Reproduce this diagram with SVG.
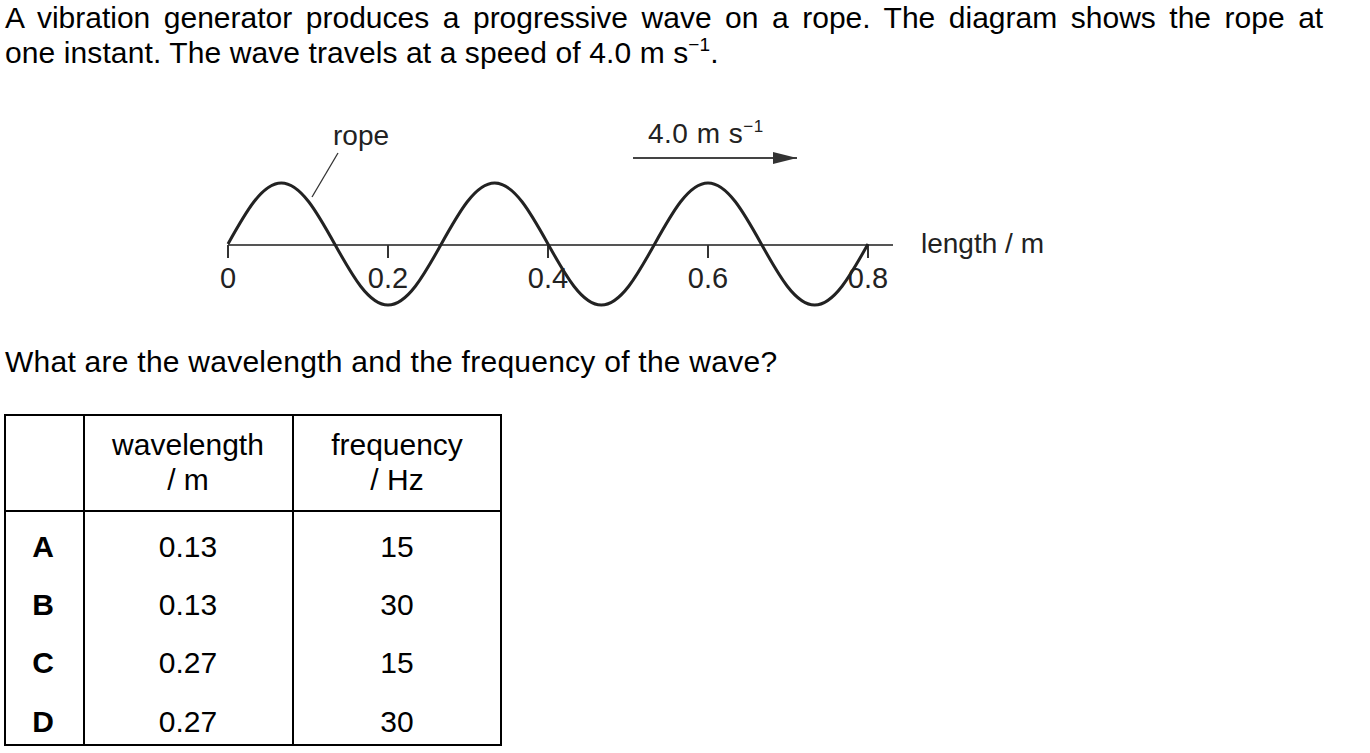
<svg xmlns="http://www.w3.org/2000/svg" width="1370" height="753" viewBox="0 0 1370 753">
<defs>
<style>
text{font-family:"Liberation Sans",Arial,sans-serif;fill:#000}
.body{font-size:30px}
.lbl{font-size:28px;fill:#222}
.tick{font-size:29px;fill:#222;text-anchor:middle}
.cell{font-size:30px;text-anchor:middle}
.bold{font-weight:bold}
.grid{stroke:#000;stroke-width:2;fill:none}
</style>
<marker id="ah" viewBox="0 0 24 12" refX="24" refY="6" markerWidth="24" markerHeight="12" markerUnits="userSpaceOnUse" orient="auto">
<path d="M0,0 L24,6 L0,12 Z" fill="#333"/>
</marker>
</defs>
<rect width="1370" height="753" fill="#fff"/>
<g id="intro">
<text class="body" x="5" y="28" word-spacing="5.2">A vibration generator produces a progressive wave on a rope. The diagram shows the rope at</text>
<text class="body" x="5" y="63" letter-spacing="0.1">one instant. The wave travels at a speed of 4.0 m s<tspan font-size="19" dy="-12">−1</tspan><tspan dy="12">.</tspan></text>
</g>
<g id="wave-diagram">
<line x1="228" y1="245" x2="893" y2="245" stroke="#555" stroke-width="2"/>
<g stroke="#333" stroke-width="2">
<line x1="228" y1="245" x2="228" y2="258"/>
<line x1="388" y1="245" x2="388" y2="258"/>
<line x1="548" y1="245" x2="548" y2="258"/>
<line x1="708" y1="245" x2="708" y2="258"/>
<line x1="868" y1="245" x2="868" y2="258"/>
</g>
<text class="tick" x="228" y="288">0</text>
<text class="tick" x="388" y="288">0.2</text>
<text class="tick" x="548" y="288">0.4</text>
<text class="tick" x="708" y="288">0.6</text>
<text class="tick" x="868" y="288">0.8</text>
<path id="rope" fill="none" stroke="#222" stroke-width="3" d="M228,244 C245.39,212.75 262.03,183 281.33,183 C300.63,183 317.27,212.75 334.67,244 C352.06,275.25 368.7,305 388,305 C407.3,305 423.94,275.25 441.33,244 C458.72,212.75 475.36,183 494.67,183 C513.97,183 530.61,212.75 548,244 C565.39,275.25 582.03,305 601.33,305 C620.63,305 637.27,275.25 654.67,244 C672.06,212.75 688.7,183 708,183 C727.3,183 743.94,212.75 761.33,244 C778.72,275.25 795.36,305 814.67,305 C833.97,305 850.61,275.25 868,244"/>
<line x1="338" y1="153" x2="312" y2="197" stroke="#333" stroke-width="1.3"/>
<text class="lbl" x="333" y="145">rope</text>
<text class="lbl" x="648" y="143" letter-spacing="0.5">4.0 m s<tspan font-size="17" dy="-11">−1</tspan></text>
<line x1="633" y1="158" x2="797" y2="158" stroke="#444" stroke-width="2" marker-end="url(#ah)"/>
<text class="lbl" x="921" y="253">length / m</text>
</g>
<g id="question">
<text class="body" x="5" y="372" letter-spacing="0.25">What are the wavelength and the frequency of the wave?</text>
</g>
<g id="table">
<rect class="grid" x="5" y="415" width="496" height="330"/>
<line class="grid" x1="84" y1="415" x2="84" y2="745"/>
<line class="grid" x1="293" y1="415" x2="293" y2="745"/>
<line class="grid" x1="5" y1="511" x2="501" y2="511"/>
<text class="cell" x="188" y="455">wavelength</text>
<text class="cell" x="188" y="490">/ m</text>
<text class="cell" x="397" y="455">frequency</text>
<text class="cell" x="397" y="490">/ Hz</text>
<text class="cell bold" x="43" y="557">A</text>
<text class="cell" x="188" y="557">0.13</text>
<text class="cell" x="397" y="557">15</text>
<text class="cell bold" x="43" y="615">B</text>
<text class="cell" x="188" y="615">0.13</text>
<text class="cell" x="397" y="615">30</text>
<text class="cell bold" x="43" y="673">C</text>
<text class="cell" x="188" y="673">0.27</text>
<text class="cell" x="397" y="673">15</text>
<text class="cell bold" x="43" y="732">D</text>
<text class="cell" x="188" y="732">0.27</text>
<text class="cell" x="397" y="732">30</text>
</g>
</svg>
